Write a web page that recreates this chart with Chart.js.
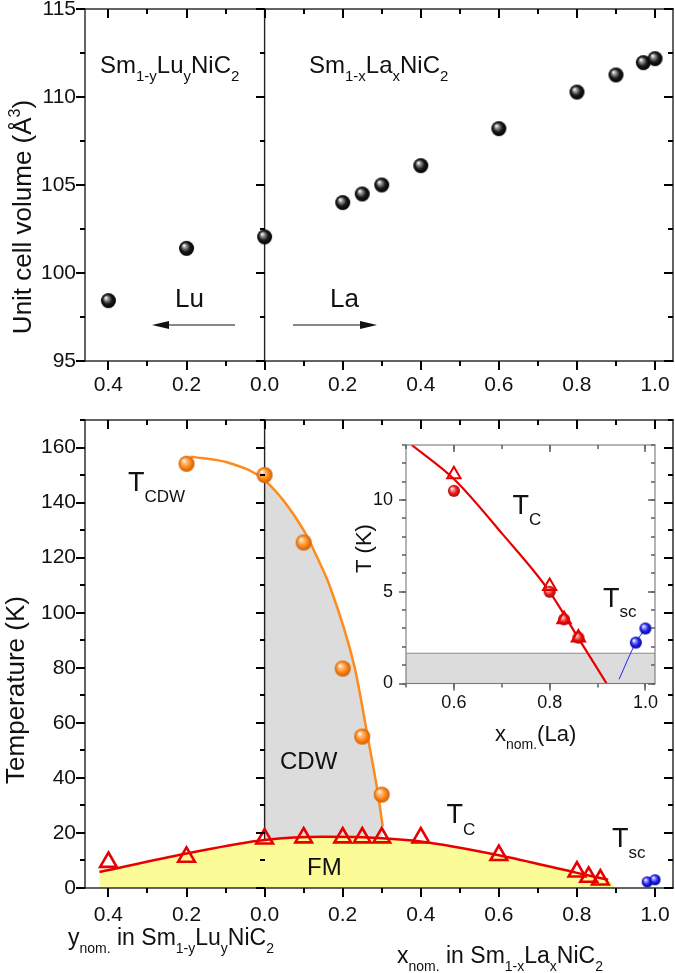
<!DOCTYPE html>
<html>
<head>
<meta charset="utf-8">
<script src="https://cdn.jsdelivr.net/npm/chart.js@4"></script>
<style>
  html, body { margin: 0; padding: 0; background: #fff; }
  #wrap { position: relative; width: 675px; height: 973px; overflow: hidden; }
  canvas { position: absolute; }
</style>
</head>
<body>
<div id="wrap">
  <canvas id="volChart" width="675" height="400" style="left:0;top:0"></canvas>
  <canvas id="phaseChart" width="675" height="573" style="left:0;top:400px"></canvas>
  <canvas id="insetChart" width="325" height="330" style="left:340px;top:430px"></canvas>
</div>
<script>
// --- dati ---
// composizione: Lu a sinistra (valori negativi sull'asse), La a destra
const luY = [0.4, 0.2];
const luVol = [98.43, 101.4];
const laX = [0, 0.2, 0.25, 0.3, 0.4, 0.6, 0.8, 0.9, 0.97, 1.0];
const laVol = [102.05, 104.0, 104.49, 105.0, 106.1, 108.2, 110.28, 111.25, 111.95, 112.18];

// T_CDW (sfere arancioni) e curva di fit
const cdwX = [-0.2, 0, 0.1, 0.2, 0.25, 0.3];
const cdwT = [154.1, 150.0, 125.5, 79.7, 55.0, 33.9];
const cdwFitX = [-0.19, -0.09, 0, 0.1, 0.136, 0.166, 0.23, 0.264, 0.29, 0.3025];
const cdwFitT = [156.7, 154.4, 148.1, 130, 119.7, 110, 80.5, 55, 34.5, 22.4];

// T_C (triangoli rossi) e curva di fit
const tcX = [-0.4, -0.2, 0, 0.1, 0.2, 0.25, 0.3, 0.4, 0.6, 0.8, 0.83, 0.86];
const tcT = [9.4, 11.3, 17.9, 18.3, 18.3, 18.3, 18.3, 18.3, 11.9, 5.9, 4.0, 3.0];
const tcFitX = [-0.423, -0.2, 0, 0.15, 0.3, 0.4, 0.6, 0.8, 0.88];
const tcFitT = [5.8, 12.5, 17.4, 18.6, 18.1, 16.9, 11.9, 5.5, 3.0];
const fmEndX = 0.9;

// T_sc (sfere blu)
const scX = [0.98, 1.0];
const scT = [2.23, 3.0];

// inset
const insX = [0.6, 0.8, 0.83, 0.86];
const insTri = [11.4, 5.3, 3.5, 2.5];
const insBall = [10.5, 5.0, 3.5, 2.5];
const insFitX = [0.512, 0.6, 0.703, 0.8, 0.86, 0.919];
const insFitT = [13.0, 11.15, 8.1, 5.0, 2.47, 0];
const insScLineX = [0.945, 0.98, 1.0];
const insScLineT = [0.23, 2.23, 3.0];
const baseT = 1.65; // limite inferiore della misura

// tick
const compTicks = [-0.4, -0.2, 0, 0.2, 0.4, 0.6, 0.8, 1.0];
const volTicks = [95, 100, 105, 110, 115];
const tempTicks = [0, 20, 40, 60, 80, 100, 120, 140, 160];
const insXTicks = [0.6, 0.8, 1.0];
const insYTicks = [0, 5, 10];

const FAM = 'Liberation Sans, Arial, sans-serif';
Chart.defaults.font.family = FAM;

const pts = (xs, ys) => xs.map((x, i) => ({ x: x, y: ys[i] }));

// sfere lucide per i punti
function sphere(r, hi, mid, lo) {
  const c = document.createElement('canvas');
  const s = Math.ceil(2 * r + 2);
  c.width = c.height = s;
  const g = c.getContext('2d');
  const cx = s / 2, cy = s / 2;
  const grad = g.createRadialGradient(cx - r * 0.35, cy - r * 0.4, r * 0.05, cx, cy, r);
  grad.addColorStop(0, '#ffffff');
  grad.addColorStop(0.22, hi);
  grad.addColorStop(0.6, mid);
  grad.addColorStop(1, lo);
  g.fillStyle = grad;
  g.beginPath();
  g.arc(cx, cy, r, 0, Math.PI * 2);
  g.fill();
  return c;
}
const ballBlack = sphere(7.5, '#9a9a9a', '#1a1a1a', '#000');
const ballOrange = sphere(8, '#ffc48a', '#ff8a1e', '#cc5c00');
const ballBlueMain = sphere(5.5, '#a0a0ff', '#2222ee', '#000090');
const ballRed = sphere(6, '#ff9a9a', '#ee1c1c', '#a00000');
const ballBlue = sphere(6, '#a0a0ff', '#2222ee', '#000090');

// testo con pedici / apici
function rich(ctx, parts, x, y, size, opt) {
  opt = opt || {};
  const sub = opt.sub || Math.round(size * 0.62);
  const dy = opt.dy !== undefined ? opt.dy : size * 0.33;
  let w = 0;
  parts.forEach(p => { ctx.font = (p[1] ? sub : size) + 'px ' + FAM; w += ctx.measureText(p[0]).width; });
  let cx = opt.center ? x - w / 2 : x;
  ctx.textAlign = 'left';
  ctx.textBaseline = 'alphabetic';
  parts.forEach(p => {
    ctx.font = (p[1] ? sub : size) + 'px ' + FAM;
    const yy = p[1] === 1 ? y + dy : (p[1] === 2 ? y - size * 0.42 : y);
    ctx.fillText(p[0], cx, yy);
    cx += ctx.measureText(p[0]).width;
  });
}
function richRot(ctx, parts, bx, cy, size, opt) {
  ctx.save();
  ctx.translate(bx, cy);
  ctx.rotate(-Math.PI / 2);
  rich(ctx, parts, 0, 0, size, Object.assign({ center: true }, opt || {}));
  ctx.restore();
}
function arrow(ctx, x1, x2, y) {
  const dir = Math.sign(x2 - x1);
  ctx.save();
  ctx.strokeStyle = '#111';
  ctx.fillStyle = '#111';
  ctx.lineWidth = 1.2;
  ctx.beginPath();
  ctx.moveTo(x1, y);
  ctx.lineTo(x2 - dir * 10, y);
  ctx.stroke();
  ctx.beginPath();
  ctx.moveTo(x2, y);
  ctx.lineTo(x2 - dir * 17, y - 4);
  ctx.lineTo(x2 - dir * 17, y + 4);
  ctx.closePath();
  ctx.fill();
  ctx.restore();
}

function steps(min, max, step) {
  const out = [];
  const k0 = Math.ceil(min / step - 1e-6);
  for (let k = k0; k * step <= max + 1e-6; k++) out.push(Math.round(k * step * 1e6) / 1e6);
  return out;
}

// cornice, tick (esterni a sinistra/sotto, interni sopra/destra), divisore a x=0, testi
function framePlugin(cfg) {
  const drawFrame = (chart) => {
    const a = chart.chartArea, ctx = chart.ctx;
    const sx = chart.scales.x, sy = chart.scales.y;
    const w = cfg.lw, tw = cfg.tw;
    ctx.save();
    ctx.fillStyle = cfg.color;
    ctx.fillRect(a.left - w / 2, a.top - w / 2, a.right - a.left + w, w);
    ctx.fillRect(a.left - w / 2, a.bottom - w / 2, a.right - a.left + w, w);
    ctx.fillRect(a.left - w / 2, a.top - w / 2, w, a.bottom - a.top + w);
    ctx.fillRect(a.right - w / 2, a.top - w / 2, w, a.bottom - a.top + w);
    ctx.fillStyle = cfg.tickColor || cfg.color;
    const d = Math.round(sx.getPixelForValue(0));
    const xt = (v, len) => {
      const p = Math.round(sx.getPixelForValue(v));
      ctx.fillRect(p - tw / 2, a.bottom, tw, len);
      ctx.fillRect(p - tw / 2, a.top, tw, len);
    };
    const yt = (v, len) => {
      const p = Math.round(sy.getPixelForValue(v));
      ctx.fillRect(a.left - len, p - tw / 2, len, tw);
      ctx.fillRect(a.right - len, p - tw / 2, len, tw);
      if (cfg.divider) ctx.fillRect(d - len, p - tw / 2, len, tw);
    };
    steps(sx.min, sx.max, cfg.xMinor).forEach(v => xt(v, cfg.lenMin));
    steps(sx.min, sx.max, cfg.xMajor).forEach(v => xt(v, cfg.lenMaj));
    steps(sy.min, sy.max, cfg.yMinor).forEach(v => yt(v, cfg.lenMin));
    steps(sy.min, sy.max, cfg.yMajor).forEach(v => yt(v, cfg.lenMaj));
    ctx.restore();
  };
  return {
    id: 'frame',
    beforeDraw(chart) {
      if (!cfg.bg) return;
      const a = chart.chartArea, ctx = chart.ctx;
      ctx.save();
      ctx.fillStyle = cfg.bg;
      ctx.fillRect(a.left, a.top, a.right - a.left, a.bottom - a.top);
      ctx.restore();
    },
    beforeDatasetsDraw(chart) {
      if (!cfg.dividerLine) return;
      const a = chart.chartArea, ctx = chart.ctx;
      const px = chart.scales.x.getPixelForValue(0);
      ctx.save();
      ctx.fillStyle = cfg.color;
      ctx.fillRect(px - cfg.lw / 2, a.top, cfg.lw, a.bottom - a.top);
      ctx.restore();
    },
    afterDraw(chart) {
      drawFrame(chart);
      if (!cfg.texts) return;
      const ctx = chart.ctx;
      ctx.save();
      ctx.fillStyle = '#111';
      cfg.texts(ctx);
      ctx.restore();
    }
  };
}

function axisX(min, max, vals, h, pad, size) {
  return {
    type: 'linear', min: min, max: max,
    grid: { display: false, drawTicks: false }, border: { display: false },
    afterBuildTicks: s => { s.ticks = vals.map(v => ({ value: v })); },
    afterFit: s => { s.height = h; s.paddingLeft = 0; s.paddingRight = 0; },
    ticks: { padding: pad, color: '#111', font: { size: size }, autoSkip: false, maxRotation: 0,
             callback: v => Math.abs(v).toFixed(1) }
  };
}
function axisY(min, max, vals, w, pad, size) {
  return {
    type: 'linear', min: min, max: max,
    grid: { display: false, drawTicks: false }, border: { display: false },
    afterBuildTicks: s => { s.ticks = vals.map(v => ({ value: v })); },
    afterFit: s => { s.width = w; s.paddingTop = 0; s.paddingBottom = 0; },
    ticks: { padding: pad, color: '#111', font: { size: size }, autoSkip: false, callback: v => String(v) }
  };
}
const baseOpts = { responsive: false, animation: false, events: [] };
const noLegend = { legend: { display: false }, tooltip: { enabled: false } };

// ---------------- pannello superiore: volume ----------------
new Chart(document.getElementById('volChart'), {
  type: 'line',
  data: {
    datasets: [
      { data: pts(luY.map(v => -v), luVol), showLine: false, pointStyle: ballBlack, pointRadius: 7.5 },
      { data: pts(laX, laVol), showLine: false, pointStyle: ballBlack, pointRadius: 7.5 }
    ]
  },
  options: Object.assign({}, baseOpts, {
    layout: { autoPadding: false, padding: { top: 9, right: 2, left: 0, bottom: 0 } },
    plugins: noLegend,
    scales: {
      x: axisX(-0.46, 1.046, compTicks, 39, 12, 21),
      y: axisY(95, 115, volTicks, 85, 9, 21)
    }
  }),
  plugins: [framePlugin({
    color: '#222', tickColor: '#000', lw: 1.4, tw: 2, xMajor: 0.2, xMinor: 0.1, yMajor: 5, yMinor: 2.5,
    lenMaj: 9, lenMin: 5, divider: true, dividerLine: true,
    texts: ctx => {
      rich(ctx, [['Sm', 0], ['1-y', 1], ['Lu', 0], ['y', 1], ['NiC', 0], ['2', 1]], 100, 73, 24, { sub: 15, dy: 8 });
      rich(ctx, [['Sm', 0], ['1-x', 1], ['La', 0], ['x', 1], ['NiC', 0], ['2', 1]], 309, 73, 24, { sub: 15, dy: 8 });
      rich(ctx, [['Lu', 0]], 175, 307, 26);
      rich(ctx, [['La', 0]], 330, 307, 26);
      arrow(ctx, 235, 152, 325);
      arrow(ctx, 293, 377, 325);
      richRot(ctx, [['Unit cell volume (Å', 0], ['3', 2], [')', 0]], 31, 217, 26, { sub: 16 });
    }
  })]
});

// ---------------- pannello inferiore: diagramma di fase ----------------
new Chart(document.getElementById('phaseChart'), {
  type: 'line',
  data: {
    datasets: [
      { // regione CDW
        data: pts(cdwFitX.filter(x => x >= 0), cdwFitT.filter((t, i) => cdwFitX[i] >= 0)),
        fill: 'origin', backgroundColor: '#dcdcdc', borderWidth: 0, pointRadius: 0,
        cubicInterpolationMode: 'monotone', order: 9
      },
      { // divisore x=0
        data: [{ x: 0, y: 0 }, { x: 0, y: 170 }],
        borderColor: '#222', borderWidth: 1.4, pointRadius: 0, fill: false, order: 8
      },
      { // regione FM
        data: pts(tcFitX, tcFitT).concat([{ x: fmEndX, y: 0 }]),
        fill: 'origin', backgroundColor: '#fbfb98', borderWidth: 0, pointRadius: 0,
        cubicInterpolationMode: 'monotone', order: 7
      },
      { data: pts(cdwFitX, cdwFitT), borderColor: '#ff8a1e', borderWidth: 2.5, pointRadius: 0,
        cubicInterpolationMode: 'monotone', fill: false, order: 6 },
      { data: pts(tcFitX, tcFitT), borderColor: '#e80000', borderWidth: 2.5, pointRadius: 0,
        cubicInterpolationMode: 'monotone', fill: false, order: 6 },
      { data: pts(tcX, tcT), showLine: false, pointStyle: 'triangle', pointRadius: 9.6,
        pointBorderColor: '#e80000', pointBackgroundColor: 'rgba(0,0,0,0)', pointBorderWidth: 2.6, order: 3 },
      { data: pts(cdwX, cdwT), showLine: false, pointStyle: ballOrange, pointRadius: 8, order: 2 },
      { data: pts(scX, scT), showLine: false, pointStyle: ballBlueMain, pointRadius: 5.5, order: 2 }
    ]
  },
  options: Object.assign({}, baseOpts, {
    layout: { autoPadding: false, padding: { top: 20, right: 2, left: 0, bottom: 0 } },
    plugins: noLegend,
    scales: {
      x: axisX(-0.46, 1.046, compTicks, 85, 15, 21),
      y: axisY(0, 170, tempTicks, 85, 9, 21)
    }
  }),
  plugins: [framePlugin({
    color: '#222', tickColor: '#000', lw: 1.4, tw: 2, xMajor: 0.2, xMinor: 0.1, yMajor: 20, yMinor: 10,
    lenMaj: 9, lenMin: 5, divider: true, dividerLine: false,
    texts: ctx => {
      rich(ctx, [['T', 0], ['CDW', 1]], 128, 90.5, 27, { sub: 17, dy: 11 });
      rich(ctx, [['CDW', 0]], 280, 369, 24);
      rich(ctx, [['FM', 0]], 307, 475, 24);
      rich(ctx, [['T', 0], ['C', 1]], 446.5, 423.3, 27, { sub: 17, dy: 12 });
      rich(ctx, [['T', 0], ['sc', 1]], 612, 446.5, 27, { sub: 17, dy: 11 });
      rich(ctx, [['y', 0], ['nom.', 1], [' in Sm', 0], ['1-y', 1], ['Lu', 0], ['y', 1], ['NiC', 0], ['2', 1]],
           68, 545, 23, { sub: 14, dy: 8 });
      rich(ctx, [['x', 0], ['nom.', 1], [' in Sm', 0], ['1-x', 1], ['La', 0], ['x', 1], ['NiC', 0], ['2', 1]],
           397, 563, 23, { sub: 14, dy: 8 });
      richRot(ctx, [['Temperature (K)', 0]], 24, 290, 26);
    }
  })]
});

// ---------------- inset ----------------
new Chart(document.getElementById('insetChart'), {
  type: 'line',
  data: {
    datasets: [
      { data: [{ x: 0.5, y: baseT }, { x: 1.02, y: baseT }], fill: 'origin', backgroundColor: '#dcdcdc',
        borderColor: '#8a8a8a', borderWidth: 1, pointRadius: 0, order: 9 },
      { data: pts(insFitX, insFitT), borderColor: '#e80000', borderWidth: 2.2, pointRadius: 0,
        cubicInterpolationMode: 'monotone', fill: false, order: 6 },
      { data: pts(insScLineX, insScLineT), borderColor: '#2222ee', borderWidth: 1, pointRadius: 0,
        cubicInterpolationMode: 'monotone', fill: false, order: 6 },
      { data: pts(insX, insBall), showLine: false, pointStyle: ballRed, pointRadius: 6, order: 4 },
      { data: pts(insX, insTri), showLine: false, pointStyle: 'triangle', pointRadius: 7.7,
        pointBorderColor: '#e80000', pointBackgroundColor: 'rgba(0,0,0,0)', pointBorderWidth: 2, order: 3 },
      { data: pts(scX, scT), showLine: false, pointStyle: ballBlue, pointRadius: 6, order: 2 }
    ]
  },
  options: Object.assign({}, baseOpts, {
    layout: { autoPadding: false, padding: { top: 15, right: 10, left: 0, bottom: 0 } },
    plugins: noLegend,
    scales: {
      x: axisX(0.5, 1.02, insXTicks, 76.5, 9, 18),
      y: axisY(0, 13, insYTicks, 66, 13, 18)
    }
  }),
  plugins: [framePlugin({
    color: '#7a7a7a', tickColor: '#666', lw: 1.1, tw: 1.6, xMajor: 0.2, xMinor: 0.1, yMajor: 5, yMinor: 1,
    lenMaj: 7, lenMin: 4, divider: false, dividerLine: false,
    texts: ctx => {
      rich(ctx, [['T', 0], ['C', 1]], 172.5, 83.5, 27, { sub: 17, dy: 11 });
      rich(ctx, [['T', 0], ['sc', 1]], 263, 177, 27, { sub: 17, dy: 10 });
      rich(ctx, [['x', 0], ['nom.', 1], ['(La)', 0]], 155, 311, 22, { sub: 14, dy: 8 });
      richRot(ctx, [['T (K)', 0]], 31, 118.5, 22);
    }
  })]
});
</script>
</body>
</html>
